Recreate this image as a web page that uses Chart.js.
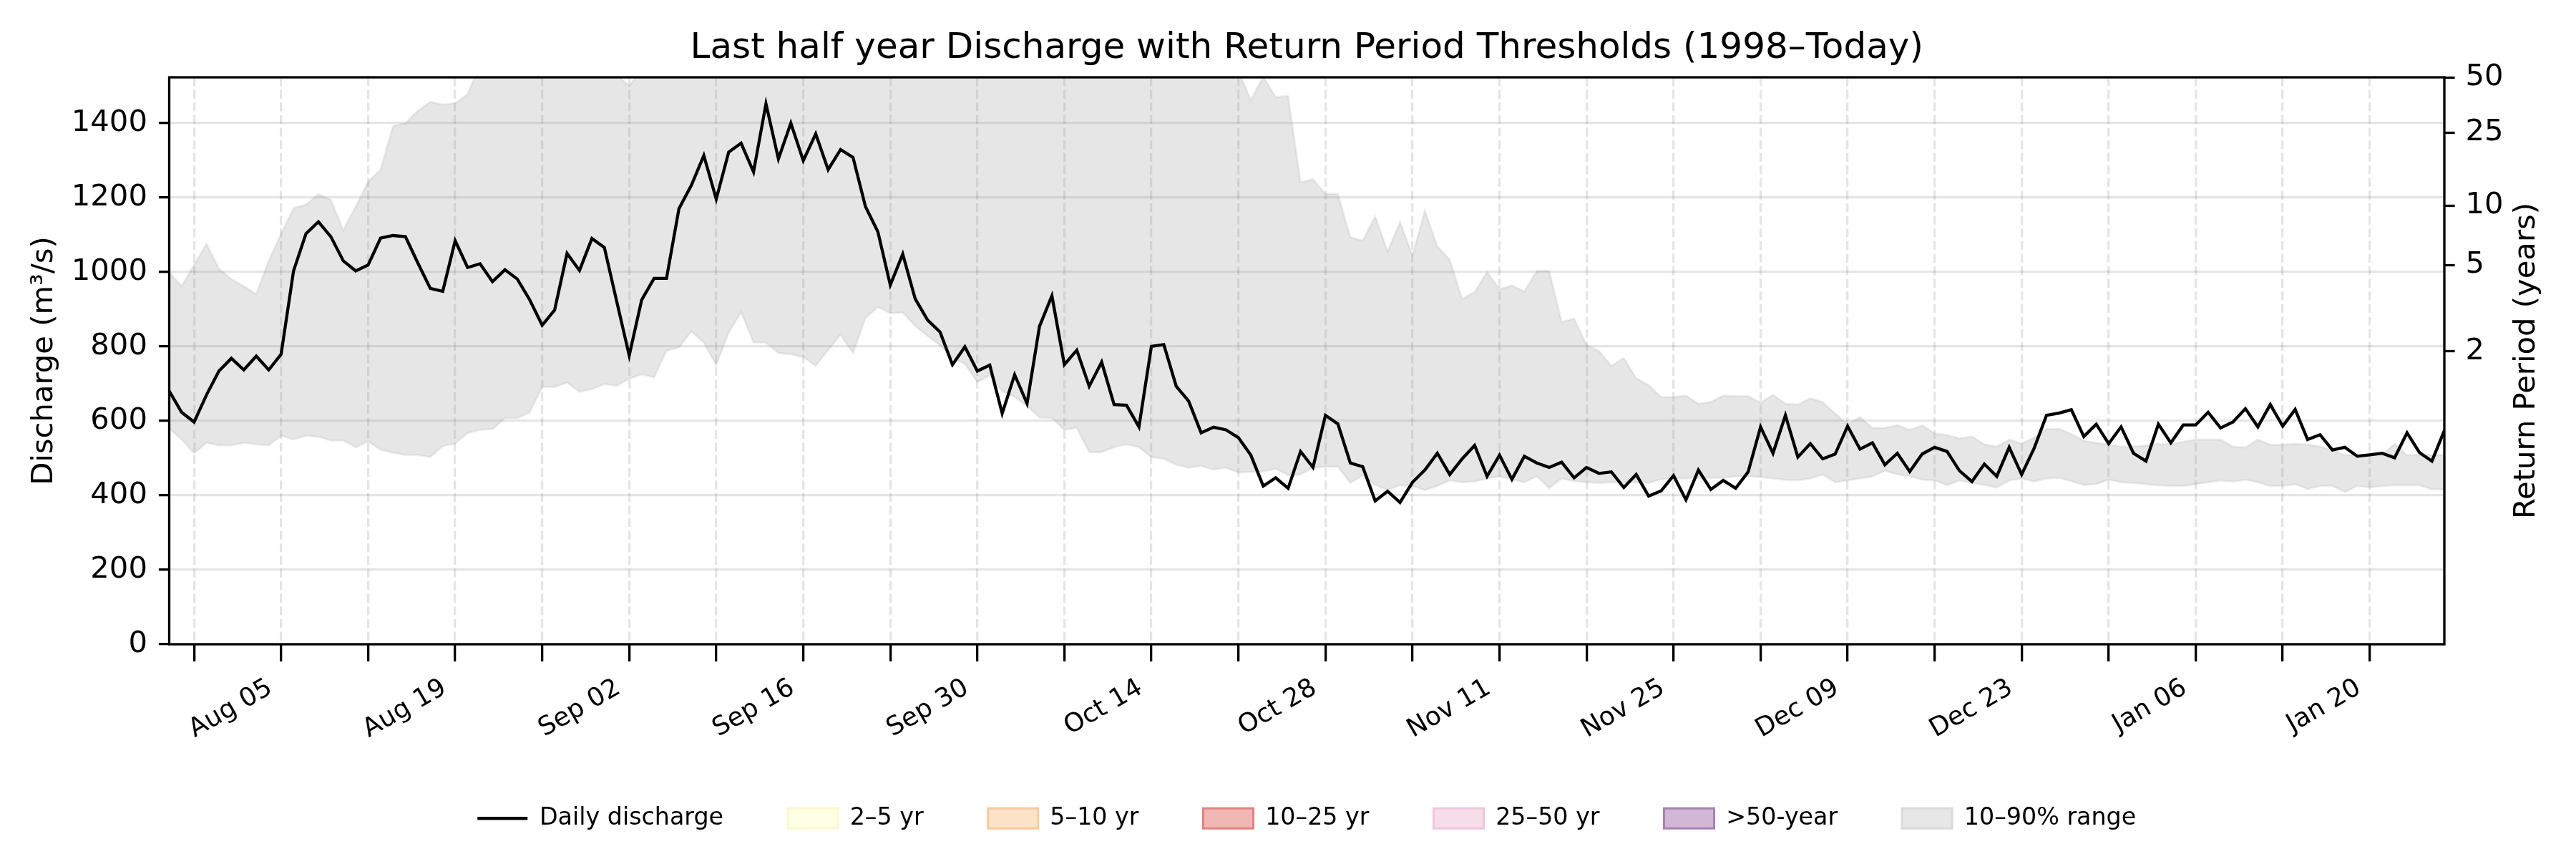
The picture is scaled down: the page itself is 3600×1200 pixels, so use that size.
<!DOCTYPE html>
<html>
<head>
<meta charset="utf-8">
<script src="https://cdn.jsdelivr.net/npm/chart.js@4.4.1/dist/chart.umd.min.js"></script>
<style>
html,body{margin:0;padding:0;background:#fff;}
#wrap{width:3600px;height:1200px;}
</style>
</head>
<body>
<div id="wrap"><canvas id="c" width="3600" height="1200"></canvas></div>
<script>
// ---------------- data ----------------
const startYear = 2024, startMonth = 6, startDay = 27; // 27 Jul 2024, one value per day

const discharge = [
  680, 623, 597, 670, 734, 768, 737, 774, 737, 779,
  1003, 1103, 1135, 1095, 1030, 1003, 1019, 1091, 1098, 1095,
  1024, 956, 948, 1084, 1012, 1022, 974, 1006, 981, 925,
  857, 898, 1050, 1004, 1090, 1066, 920, 776, 925, 983,
  983, 1170, 1233, 1313, 1196, 1322, 1346, 1269, 1452, 1304,
  1400, 1299, 1371, 1275, 1329, 1308, 1176, 1108, 965, 1048,
  928, 871, 839, 751, 799, 734, 750, 620, 724, 647,
  854, 936, 751, 790, 693, 758, 644, 642, 584, 800,
  805, 693, 653, 568, 583, 576, 555, 508, 425, 447,
  419, 518, 475, 615, 592, 487, 477, 385, 411,
  381, 435, 468, 513, 456, 498, 534, 451, 508, 443,
  505, 487, 475, 489, 447, 475, 459, 463, 421, 456,
  398, 412, 453, 388, 468, 416, 440, 419, 463, 584,
  513, 615, 503, 539, 498, 511, 586, 524, 541, 482,
  513, 464, 511, 529, 518, 466, 437, 484, 451,
  529, 456, 526, 615, 621, 630, 558, 591, 539, 584,
  513, 492, 591, 541, 589, 589, 623, 581, 597, 633,
  584, 644, 586, 631, 550, 563, 522, 529, 505, 509,
  513, 501, 568, 515, 492, 574
];

const p10 = [
  579, 550, 513, 541, 534, 534, 541, 537, 534, 560,
  550, 560, 557, 547, 547, 529, 545, 522, 515, 508,
  508, 503, 532, 539, 567, 576, 578, 607, 607, 623,
  691, 691, 703, 678, 685, 699, 694, 713, 725, 717,
  788, 797, 840, 810, 750, 837, 892, 810, 810, 782,
  779, 771, 748, 790, 831, 782, 876, 906, 889, 891,
  855, 828, 803, 769, 753, 704, 722, 680, 664, 640,
  609, 607, 576, 581, 516, 516, 529, 537, 529, 503,
  498, 482, 474, 479, 469, 474, 461, 463, 464, 471,
  454, 456, 474, 477, 477, 433, 454, 428, 414,
  427, 425, 414, 425, 440, 435, 437, 445, 451, 443,
  435, 451, 419, 445, 438, 435, 433, 435, 435, 435,
  433, 443, 445, 445, 447, 447, 447, 451, 451, 449,
  445, 442, 440, 445, 456, 435, 440, 445, 451, 466,
  456, 451, 442, 440, 427, 440, 433, 428, 421,
  440, 445, 437, 445, 447, 438, 428, 430, 442, 435,
  433, 430, 427, 425, 425, 430, 435, 440, 437, 442,
  435, 425, 425, 430, 417, 425, 425, 409, 425, 421,
  425, 427, 427, 427, 416, 416
];

const p90 = [
  1000, 962, 1019, 1076, 1009, 981, 962, 941, 1030, 1103,
  1172, 1181, 1209, 1194, 1113, 1176, 1243, 1275, 1392, 1400,
  1434, 1457, 1450, 1454, 1478,
  1560, 1590, 1620, 1640, 1660, 1650, 1630, 1610, 1580, 1560, 1545, 1530,
  1500,
  1545, 1580, 1620, 1680, 1720, 1760, 1780, 1800, 1810, 1790,
  1770, 1760, 1750, 1740, 1720, 1700, 1690, 1680, 1660, 1650,
  1640, 1630, 1620, 1610, 1600, 1590, 1580, 1575, 1570, 1565,
  1560, 1555, 1550, 1548, 1546, 1544, 1542, 1540, 1538, 1536,
  1534, 1532, 1530, 1540, 1560, 1580, 1590, 1560, 1540,
  1462, 1525, 1470, 1473, 1241, 1249, 1210, 1210, 1094, 1084, 1150, 1056,
  1134, 1045, 1165, 1069, 1033, 928, 946, 1000, 954, 964,
  948, 1003, 1003, 866, 875, 805, 788, 748, 769, 715,
  696, 664, 664, 668, 646, 651, 668, 667, 667, 649,
  670, 646, 644, 661, 651, 620, 591, 610, 581, 581,
  589, 576, 588, 567, 562, 553, 558, 537, 531,
  550, 539, 555, 579, 579, 565, 547, 541, 537, 531,
  531, 534, 539, 537, 544, 550, 550, 550, 531, 529,
  550, 536, 536, 539, 537, 531, 522, 508, 508, 508,
  508, 539, 508, 508, 508, 508
];

const yTicks = [0, 200, 400, 600, 800, 1000, 1200, 1400];
const returnPeriods = [2, 5, 10, 25, 50];
const rpThresholds = [787, 1019, 1178, 1374, 1523];
const xTickLabels = ['Aug 05','Aug 19','Sep 02','Sep 16','Sep 30','Oct 14','Oct 28',
                     'Nov 11','Nov 25','Dec 09','Dec 23','Jan 06','Jan 20'];
const legendLabels = ['Daily discharge','2\u20135 yr','5\u201310 yr','10\u201325 yr','25\u201350 yr','>50-year','10\u201390% range'];
const monthNames = ['Jan','Feb','Mar','Apr','May','Jun','Jul','Aug','Sep','Oct','Nov','Dec'];
const titleText = 'Last half year Discharge with Return Period Thresholds (1998\u2013Today)';
const leftAxisTitle = 'Discharge (m\u00b3/s)';
const rightAxisTitle = 'Return Period (years)';

// ---------------- helpers ----------------
const N = discharge.length;
const dates = Array.from({length: N}, (_, i) => new Date(startYear, startMonth, startDay + i));
const fmt = d => monthNames[d.getMonth()] + ' ' + String(d.getDate()).padStart(2, '0');
const weeklyTicks = dates.map((d, i) => d.getDay() === 1 ? i : -1).filter(i => i >= 0);
const pts = arr => arr.map((v, i) => ({x: i, y: v}));

const legendStyles = [
  {fill: 'rgba(0,0,0,0)', stroke: '#000000', lw: 4.5, style: 'line'},
  {fill: '#ffffe5', stroke: '#fcf8cc', lw: 3, style: 'rect'},
  {fill: '#fde3c8', stroke: '#fcc99b', lw: 3, style: 'rect'},
  {fill: '#f1b7b5', stroke: '#e5817e', lw: 3, style: 'rect'},
  {fill: '#f6dde9', stroke: '#f0c5db', lw: 3, style: 'rect'},
  {fill: '#d2b7d6', stroke: '#aa80b8', lw: 3, style: 'rect'},
  {fill: '#e7e7e7', stroke: '#dadada', lw: 3, style: 'rect'}
];

Chart.defaults.font.family = 'DejaVu Sans';
Chart.defaults.color = '#000';

const SPINE = 3.3;
const AXIS_FONT = 41.7;

const framePlugin = {
  id: 'frame',
  afterDatasetsDraw(chart) {
    const {ctx, chartArea: a} = chart;
    ctx.save();
    ctx.strokeStyle = '#000';
    ctx.lineWidth = SPINE;
    ctx.strokeRect(a.left, a.top, a.right - a.left, a.bottom - a.top);
    ctx.restore();
  }
};

// right axis title reads bottom-to-top like the left one
const rightTitlePlugin = {
  id: 'rightTitle',
  afterDraw(chart) {
    const s = chart.scales.y2;
    const a = chart.chartArea;
    const ctx = chart.ctx;
    ctx.save();
    ctx.translate(s.right - 44 - AXIS_FONT * 0.6, (a.top + a.bottom) / 2);
    ctx.rotate(-Math.PI / 2);
    ctx.font = AXIS_FONT + 'px "DejaVu Sans"';
    ctx.fillStyle = '#000';
    ctx.textAlign = 'center';
    ctx.textBaseline = 'middle';
    ctx.fillText(rightAxisTitle, 0, 0);
    ctx.restore();
  }
};

const bandColor = 'rgba(128,128,128,0.2)';
const bandEdge = 'rgba(128,128,128,0.12)';
const gridColor = 'rgba(0,0,0,0.1)';

new Chart(document.getElementById('c'), {
  type: 'line',
  data: {
    datasets: [
      {label: legendLabels[0], data: pts(discharge), borderColor: '#000', borderWidth: 4.3,
       pointRadius: 0, tension: 0, fill: false, yAxisID: 'y'},
      {label: legendLabels[1], data: [], yAxisID: 'y'},
      {label: legendLabels[2], data: [], yAxisID: 'y'},
      {label: legendLabels[3], data: [], yAxisID: 'y'},
      {label: legendLabels[4], data: [], yAxisID: 'y'},
      {label: legendLabels[5], data: [], yAxisID: 'y'},
      {label: legendLabels[6], data: pts(p90), borderColor: bandEdge, borderWidth: 3,
       backgroundColor: bandColor, pointRadius: 0, tension: 0, fill: '+1', yAxisID: 'y'},
      {label: 'p10', data: pts(p10), borderColor: bandEdge, borderWidth: 3,
       pointRadius: 0, tension: 0, fill: false, yAxisID: 'y'}
    ]
  },
  options: {
    responsive: false,
    animation: false,
    devicePixelRatio: 1,
    layout: {padding: {top: 0, left: 0, right: 0, bottom: 30}},
    plugins: {
      tooltip: {enabled: false},
      title: {
        display: true, fullSize: false,
        text: titleText,
        font: {size: 50, weight: 'normal', lineHeight: 1.2},
        color: '#000',
        padding: {top: 38, bottom: 10}
      },
      legend: {
        position: 'bottom', fullSize: false, align: 'center',
        labels: {
          usePointStyle: true, pointStyleWidth: 70, boxHeight: 28, padding: 90,
          font: {size: 33.3}, color: '#000',
          generateLabels: () => legendLabels.map((t, i) => ({
            text: t, fillStyle: legendStyles[i].fill, strokeStyle: legendStyles[i].stroke,
            lineWidth: legendStyles[i].lw, pointStyle: legendStyles[i].style,
            hidden: false, datasetIndex: i, fontColor: '#000'
          }))
        },
        onClick: () => {}
      }
    },
    scales: {
      x: {
        type: 'linear', min: 0, max: N - 1, offset: false,
        afterBuildTicks: s => { s.ticks = weeklyTicks.map(v => ({value: v})); },
        afterFit: s => { s.height = 136.7; },
        ticks: {
          autoSkip: false, maxRotation: 30, minRotation: 30, padding: 16, labelOffset: -15,
          font: {size: 36}, color: '#000',
          callback: v => { const l = fmt(dates[v]); return xTickLabels.includes(l) ? l : ''; }
        },
        grid: {color: gridColor, lineWidth: SPINE, tickColor: '#000', tickWidth: SPINE,
               tickLength: 24, tickBorderDash: []},
        border: {display: false, dash: [12.3, 5.3]}
      },
      y: {
        position: 'left', min: 0, max: rpThresholds[rpThresholds.length - 1],
        afterBuildTicks: s => { s.ticks = yTicks.map(v => ({value: v})); },
        afterFit: s => { s.width = 236.5; },
        ticks: {font: {size: AXIS_FONT}, padding: 16, color: '#000', callback: v => String(v)},
        grid: {color: gridColor, lineWidth: SPINE, tickColor: '#000', tickWidth: SPINE, tickLength: 14.6},
        border: {display: false},
        title: {display: true, text: leftAxisTitle, font: {size: AXIS_FONT, lineHeight: 1.2}, color: '#000',
                padding: {top: 36.7, bottom: 0}}
      },
      y2: {
        position: 'right', min: 0, max: rpThresholds[rpThresholds.length - 1],
        afterBuildTicks: s => { s.ticks = rpThresholds.map(v => ({value: v})); },
        afterFit: s => { s.width = 184; },
        ticks: {font: {size: AXIS_FONT}, padding: 15, color: '#000',
                callback: (v, i) => String(returnPeriods[i])},
        grid: {drawOnChartArea: false, tickColor: '#000', tickWidth: SPINE, tickLength: 14.6},
        border: {display: false},
        title: {display: false}
      }
    }
  },
  plugins: [framePlugin, rightTitlePlugin]
});
</script>
</body>
</html>
